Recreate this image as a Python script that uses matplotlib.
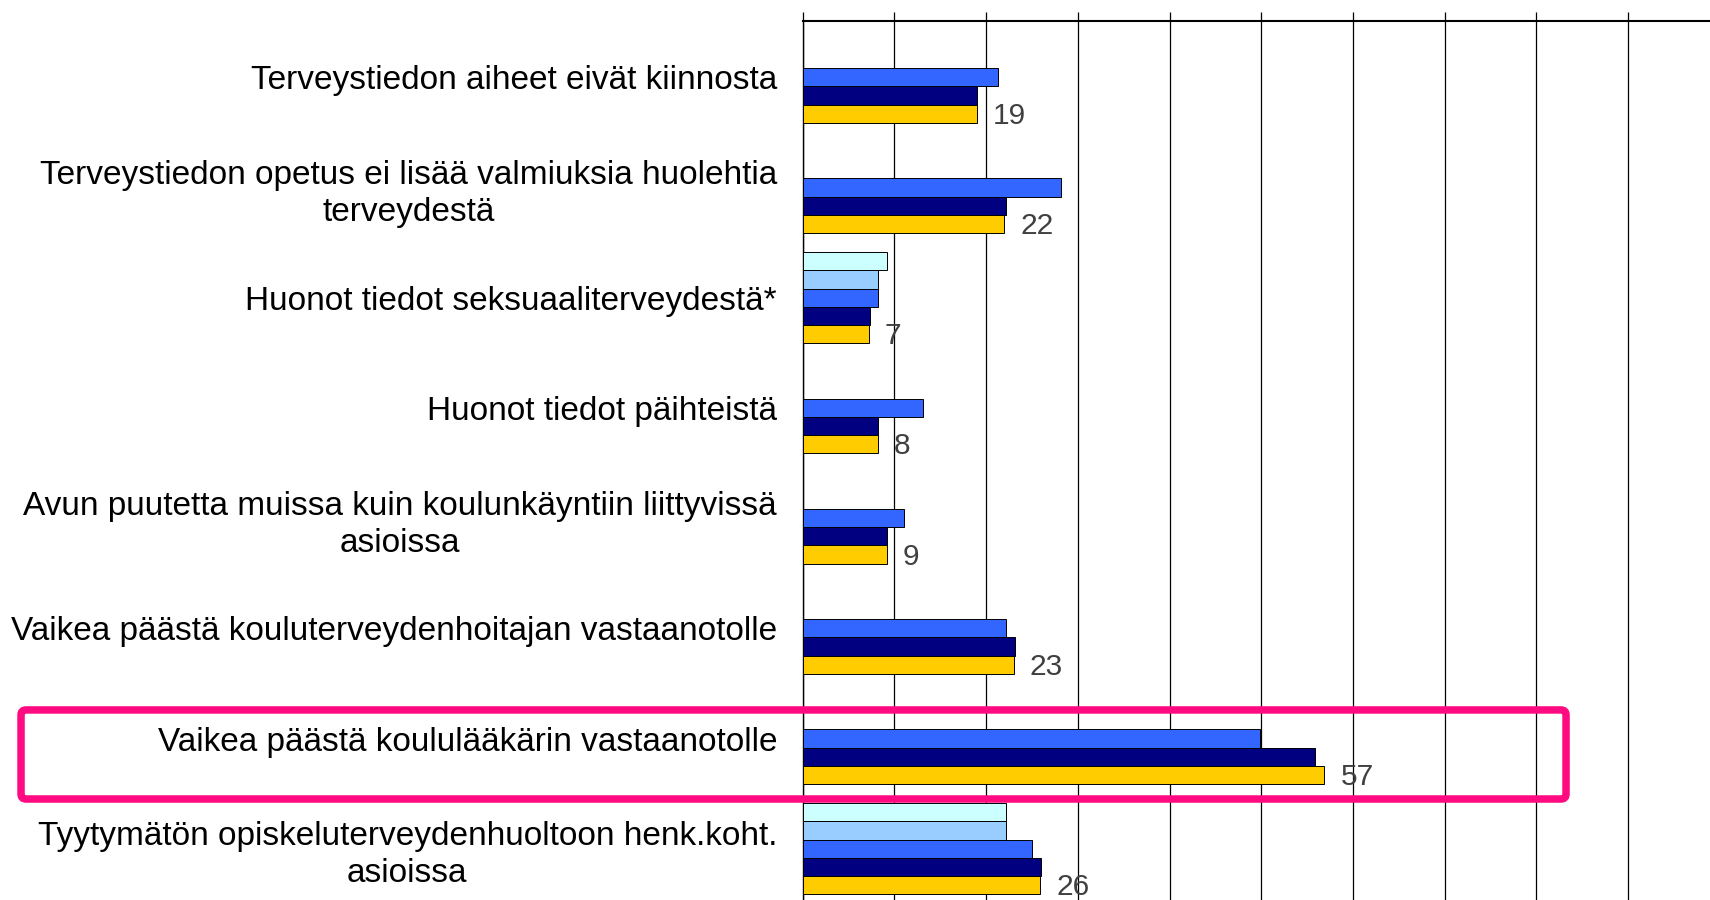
import numpy as np
import matplotlib
matplotlib.use("Agg")
import matplotlib.pyplot as plt
from matplotlib.patches import FancyBboxPatch
from matplotlib.transforms import IdentityTransform

plt.rcParams['font.family'] = ['Liberation Sans', 'DejaVu Sans']

categories = [
    "Terveystiedon aiheet eivät kiinnosta",
    "Terveystiedon opetus ei lisää valmiuksia huolehtia\nterveydestä",
    "Huonot tiedot seksuaaliterveydestä*",
    "Huonot tiedot päihteistä",
    "Avun puutetta muissa kuin koulunkäyntiin liittyvissä\nasioissa",
    "Vaikea päästä kouluterveydenhoitajan vastaanotolle",
    "Vaikea päästä koululääkärin vastaanotolle",
    "Tyytymätön opiskeluterveydenhuoltoon henk.koht.\nasioissa",
]
nan = np.nan
series_1 = [nan, nan, 9.2, nan, nan, nan, nan, 22.2]
series_2 = [nan, nan, 8.2, nan, nan, nan, nan, 22.2]
series_3 = [21.3, 28.2, 8.2, 13.1, 11.1, 22.2, 49.9, 25.0]
series_4 = [19.0, 22.2, 7.3, 8.2, 9.2, 23.2, 55.9, 26.0]
series_5 = [19.0, 22.0, 7.2, 8.2, 9.2, 23.0, 56.9, 25.9]
series = [series_1, series_2, series_3, series_4, series_5]
colors = ['#CCFFFF', '#99CCFF', '#3366FF', '#000080', '#FFCC00']
highlight_index = 6

W, H = 1710, 900
fig = plt.figure(figsize=(W / 100, H / 100), dpi=100)
fig.patch.set_facecolor('white')

px_per_unit = 9.17
x0_px = 802.7
top_px = 21.0
ax = fig.add_axes([x0_px / W, 0, 100 * px_per_unit / W, (H - top_px) / H])

spacing = 110.2
first_center = 77.3
ax.set_ylim((H - first_center) / spacing, -(first_center - top_px) / spacing)
ax.set_xlim(0, 100)

bh = 0.165
y = np.arange(len(categories))
for k, (vals, c) in enumerate(zip(series, colors)):
    vals = np.array(vals, dtype=float)
    m = ~np.isnan(vals)
    ax.barh(y[m] + (k - 2) * bh, vals[m], height=bh, color=c,
            edgecolor='black', linewidth=0.7, zorder=3)

# value labels on last series
for i, v in enumerate(series_5):
    ax.annotate(f"{v:.0f}", xy=(v, i + 2 * bh), xytext=(11.5, -1.5),
                textcoords='offset points', ha='left', va='center',
                fontsize=21.5, color='#404040', zorder=4)

ax.set_yticks(y)
ax.set_yticklabels(categories, fontsize=24, ha='right',
                   multialignment='center', linespacing=1.26)
ax.tick_params(axis='y', length=0, pad=18.5)

ax.set_xticks(np.arange(0, 101, 10))
ax.xaxis.tick_top()
ax.tick_params(axis='x', top=True, bottom=False, labeltop=False,
               labelbottom=False, length=6.5, width=0.9, direction='out',
               color='black')
ax.grid(axis='x', color='black', linewidth=0.9)
ax.set_axisbelow(True)
for s in ['right', 'bottom']:
    ax.spines[s].set_visible(False)
ax.spines['top'].set_linewidth(1.5)
ax.spines['left'].set_linewidth(1.0)

# highlight box around one category
y_top_data = highlight_index - 0.259
y_bot_data = highlight_index + 0.549
_, ytop = ax.transData.transform((0, y_top_data))
_, ybot = ax.transData.transform((0, y_bot_data))
xl = 0.0123 * W
xr = 0.9158 * W
box = FancyBboxPatch((xl, ybot), xr - xl, ytop - ybot,
                     boxstyle="round,pad=0,rounding_size=5",
                     transform=IdentityTransform(), fill=False,
                     edgecolor='#FF0A80', linewidth=5.4, zorder=10)
fig.add_artist(box)

fig.savefig('out.png', dpi=100, facecolor='white')
